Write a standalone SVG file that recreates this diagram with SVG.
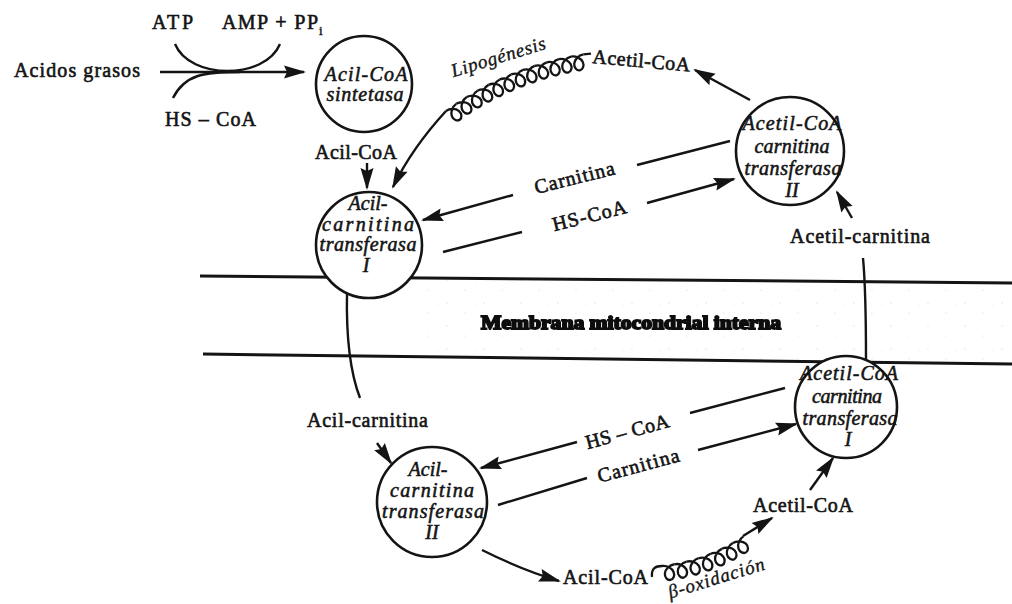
<svg xmlns="http://www.w3.org/2000/svg" width="1012" height="604" viewBox="0 0 1012 604">
<defs>
<style>
 .r{font-family:"Liberation Serif","Times New Roman",serif;font-size:20px;fill:#141414;stroke:#141414;stroke-width:0.6}
 .i{font-family:"Liberation Serif","Times New Roman",serif;font-style:italic;font-size:20px;fill:#141414;stroke:#141414;stroke-width:0.55;text-anchor:middle}
 .s{font-family:"Liberation Serif","Times New Roman",serif;font-style:italic;font-size:19px;fill:#141414;stroke:#141414;stroke-width:0.35;text-anchor:middle}
 .enz{fill:#fff;stroke:#141414;stroke-width:2.6}
 .ln{fill:none;stroke:#141414;stroke-width:2.4}
 .ar{marker-end:url(#ah)}
 .mem{fill:none;stroke:#141414;stroke-width:3}
 .coil{fill:none;stroke:#141414;stroke-width:2.3}
</style>
<marker id="ah" markerUnits="userSpaceOnUse" markerWidth="24" markerHeight="16" refX="20" refY="6.5" orient="auto" overflow="visible">
 <path d="M0,0 L22,6.5 L0,13 L3,6.5 z" fill="#141414"/>
</marker>
<!-- one turn of the helical "coil" connector: 12.5 px pitch, 15 px loop hanging below -->
<path id="loop" class="coil" d="M0,0 C4.97,0 9.58,3.57 10.63,7.5 C11.67,11.43 9.14,15 6.25,15 C3.37,15 0.83,11.43 1.88,7.5 C2.92,3.57 7.53,0 12.5,0"/>
<pattern id="stip" width="37" height="23" patternUnits="userSpaceOnUse">
 <circle cx="3" cy="4" r="0.6" fill="#555"/>
 <circle cx="21" cy="14" r="0.5" fill="#555"/>
 <circle cx="31" cy="6" r="0.4" fill="#555"/>
</pattern>
<filter id="smear" x="-5%" y="-30%" width="110%" height="160%">
 <feGaussianBlur stdDeviation="0.6"/>
</filter>
</defs>

<rect width="1012" height="604" fill="#fff"/>

<!-- inner mitochondrial membrane -->
<g id="membrane">
 <polygon points="420,279 1012,285 1012,362 420,356" fill="url(#stip)" opacity="0.3"/>
 <path class="mem" d="M200,276 L1012,283"/>
 <path class="mem" d="M203,354 L1012,364"/>
 <text x="631" y="329" text-anchor="middle" textLength="300" lengthAdjust="spacingAndGlyphs" filter="url(#smear)" style="font-family:'Liberation Serif',serif;font-weight:bold;font-size:19px;fill:#111;stroke:#111;stroke-width:1.8">Membrana mitocondrial interna</text>
</g>

<g id="connectors">
 <!-- fatty acid activation -->
 <path class="ln ar" d="M160,72 H304"/>
 <path class="ln" d="M175,44 C190,80 265,80 280,44"/>
 <path class="ln" d="M173,98 C185,74 205,72 240,72"/>
 <path class="ln ar" d="M367,163 L367,188"/>
 <!-- lipogenesis -->
 <g id="coil-lipo">
  <use href="#loop" transform="translate(446,111) rotate(-35)"/>
  <use href="#loop" transform="translate(456.24,103.83) rotate(-32.7)"/>
  <use href="#loop" transform="translate(466.75,97.08) rotate(-30.4)"/>
  <use href="#loop" transform="translate(477.53,90.75) rotate(-28.1)"/>
  <use href="#loop" transform="translate(488.56,84.86) rotate(-25.8)"/>
  <use href="#loop" transform="translate(499.81,79.42) rotate(-23.5)"/>
  <use href="#loop" transform="translate(511.27,74.43) rotate(-21.2)"/>
  <use href="#loop" transform="translate(522.92,69.9) rotate(-18.9)"/>
  <use href="#loop" transform="translate(534.75,65.85) rotate(-16.6)"/>
  <use href="#loop" transform="translate(546.73,62.27) rotate(-14.3)"/>
  <use href="#loop" transform="translate(558.84,59.18) rotate(-12)"/>
  <use href="#loop" transform="translate(571.07,56.58) rotate(-10)"/>
  <path class="coil" d="M583.4,54.4 L591,53.6"/>
 </g>
 <path class="ln ar" d="M446,111 Q412,148 393,187"/>
 <path class="ln ar" d="M750,100 L695,70"/>
 <!-- cytosolic exchange -->
 <path class="ln" d="M730,141 L637,165"/>
 <path class="ln ar" d="M513,195 L423,220"/>
 <path class="ln" d="M443,252 L522,232"/>
 <path class="ln ar" d="M647,203 L734,179"/>
 <path class="ln ar" d="M852,218 L837,192"/>
 <path class="ln" d="M863,258 C866,290 866,330 866,360"/>
 <path class="ln" d="M347,293 C346,340 350,372 360,398"/>
 <!-- matrix side -->
 <path class="ln ar" d="M377,443 L391,463"/>
 <path class="ln" d="M785,388 L690,413"/>
 <path class="ln ar" d="M577,442 L481,468"/>
 <path class="ln" d="M498,505 L587,478"/>
 <path class="ln ar" d="M698,450 L796,424"/>
 <path class="ln ar" d="M810,490 L833,458"/>
 <path class="ln ar" d="M482,550 Q522,570 559,581"/>
 <!-- beta oxidation -->
 <g id="coil-beta">
  <path class="coil" d="M652,577 C651,568 656,566 662,566"/>
  <use href="#loop" transform="translate(662,566) rotate(-8)"/>
  <use href="#loop" transform="translate(674.38,564.26) rotate(-12)"/>
  <use href="#loop" transform="translate(686.61,561.66) rotate(-16)"/>
  <use href="#loop" transform="translate(698.62,558.21) rotate(-20)"/>
  <use href="#loop" transform="translate(710.37,553.93) rotate(-24)"/>
  <use href="#loop" transform="translate(721.8,548.84) rotate(-28)"/>
  <use href="#loop" transform="translate(732.84,542.98) rotate(-32)"/>
 </g>
 <path class="ln ar" d="M743,536 L772,518"/>
</g>

<!-- free labels -->
<g id="acidos-grasos"><text class="r" x="14" y="77" textLength="126">Acidos grasos</text></g>
<g id="atp"><text class="r" x="152" y="29" textLength="41">ATP</text></g>
<g id="amp-ppi"><text class="r" x="222" y="29" textLength="96">AMP + PP</text><text class="r" x="319" y="35" style="font-size:13px;stroke-width:0.4">i</text></g>
<g id="hs-coa-1"><text class="r" x="165" y="126" textLength="91">HS – CoA</text></g>
<g id="acil-coa-1"><text class="r" x="315" y="159" textLength="82">Acil-CoA</text></g>
<g id="lipogenesis"><text class="s" transform="translate(500,63) rotate(-17)" textLength="98">Lipogénesis</text></g>
<g id="acetil-coa-1"><text class="r" transform="translate(592,63) rotate(5)" textLength="98">Acetil-CoA</text></g>
<g id="carnitina-1"><text class="r" text-anchor="middle" transform="translate(576,184) rotate(-14)" textLength="82">Carnitina</text></g>
<g id="hs-coa-2"><text class="r" text-anchor="middle" transform="translate(591,222) rotate(-14)" textLength="76">HS-CoA</text></g>
<g id="acetil-carnitina"><text class="r" x="790" y="243" textLength="140">Acetil-carnitina</text></g>
<g id="acil-carnitina"><text class="r" x="307" y="427" textLength="121">Acil-carnitina</text></g>
<g id="hs-coa-3"><text class="r" text-anchor="middle" transform="translate(629,438) rotate(-15)" textLength="86">HS – CoA</text></g>
<g id="carnitina-2"><text class="r" text-anchor="middle" transform="translate(640,472) rotate(-15)" textLength="84">Carnitina</text></g>
<g id="acetil-coa-2"><text class="r" x="753" y="512" textLength="100">Acetil-CoA</text></g>
<g id="acil-coa-2"><text class="r" x="563" y="584" textLength="85">Acil-CoA</text></g>
<g id="beta-oxidacion"><text class="s" transform="translate(718,584) rotate(-17)" textLength="100">β-oxidación</text></g>

<!-- enzymes -->
<g id="acil-coa-sintetasa">
 <circle class="enz" cx="364" cy="84" r="48"/>
 <text class="i" x="366" y="81" textLength="83">Acil-CoA</text>
 <text class="i" x="365" y="101" textLength="77">sintetasa</text>
</g>
<g id="acil-carnitina-transferasa-1">
 <circle class="enz" cx="369" cy="245" r="53"/>
 <text class="i" x="368" y="210">Acil-</text>
 <text class="i" x="368" y="231" textLength="92">carnitina</text>
 <text class="i" x="368" y="251" textLength="97">transferasa</text>
 <text class="i" x="366" y="272">I</text>
</g>
<g id="acetil-coa-carnitina-transferasa-2">
 <circle class="enz" cx="790" cy="151" r="54"/>
 <text class="i" x="792" y="130" textLength="99">Acetil-CoA</text>
 <text class="i" x="792" y="153" textLength="75">carnitina</text>
 <text class="i" x="793" y="175" textLength="97">transferasa</text>
 <text class="i" x="792" y="197">II</text>
</g>
<g id="acil-carnitina-transferasa-2">
 <circle class="enz" cx="432" cy="502" r="55"/>
 <text class="i" x="428" y="476">Acil-</text>
 <text class="i" x="432" y="497" textLength="84">carnitina</text>
 <text class="i" x="433" y="518" textLength="102">transferasa</text>
 <text class="i" x="432" y="539">II</text>
</g>
<g id="acetil-coa-carnitina-transferasa-1">
 <circle class="enz" cx="846" cy="407" r="51"/>
 <text class="i" x="849" y="380" textLength="98">Acetil-CoA</text>
 <text class="i" x="847" y="403" textLength="70">carnitina</text>
 <text class="i" x="850" y="425" textLength="95">transferasa</text>
 <text class="i" x="848" y="446">I</text>
</g>
</svg>
